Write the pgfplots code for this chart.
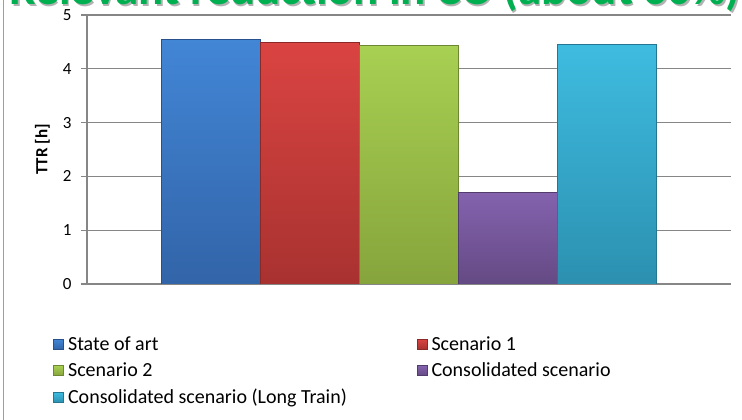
\documentclass[border=0pt]{standalone}
\usepackage{pgfplots}
\pgfplotsset{compat=1.18}
\usepackage{fontspec}
\setmainfont{Carlito}
\definecolor{gridgray}{RGB}{134,134,134}
\definecolor{titlegreen}{RGB}{0,176,80}
\definecolor{bTop}{RGB}{66,134,214}\definecolor{bBot}{RGB}{50,100,168}\definecolor{bEdge}{RGB}{40,80,140}
\definecolor{rTop}{RGB}{218,68,66}\definecolor{rBot}{RGB}{168,50,48}\definecolor{rEdge}{RGB}{140,40,38}
\definecolor{gTop}{RGB}{168,208,82}\definecolor{gBot}{RGB}{134,164,60}\definecolor{gEdge}{RGB}{110,135,50}
\definecolor{pTop}{RGB}{132,98,174}\definecolor{pBot}{RGB}{100,74,132}\definecolor{pEdge}{RGB}{82,60,110}
\definecolor{cTop}{RGB}{62,188,224}\definecolor{cBot}{RGB}{44,144,176}\definecolor{cEdge}{RGB}{36,118,145}
\begin{document}
\begin{tikzpicture}[x=1pt,y=1pt]
\clip (0,0) rectangle (742,420);
\path[use as bounding box] (0,0) rectangle (742,420);
% left frame line
\draw[gray!75, line width=1.5pt] (3.5,0) -- (3.5,420);
% title (cut off at the top)
\node[anchor=base, text=black!30, font=\fontsize{47}{55}\selectfont\bfseries, inner sep=0pt] at (376.5,413.5) {Relevant reduction in CO (about 60\%)};
\node[anchor=base, text=titlegreen, font=\fontsize{47}{55}\selectfont\bfseries, inner sep=0pt] at (375,415) {Relevant reduction in CO (about 60\%)};
\begin{axis}[
  at={(87pt,136pt)}, anchor=south west,
  scale only axis, width=644pt, height=269pt,
  font=\fontsize{17}{20}\selectfont,
  /pgf/number format/assume math mode=true,
  xmin=-1.25, xmax=5.25, ymin=0, ymax=5,
  ytick={0,1,2,3,4,5}, xtick=\empty,
  axis x line*=bottom, axis y line*=left,
  axis line style={draw=gridgray, line width=1.2pt, -},
  ymajorgrids, grid style={draw=gridgray, line width=1.2pt},
  tick style={draw=gridgray, line width=1.2pt},
  tick align=outside, major tick length=6pt,
  yticklabel style={xshift=-6pt},
  ylabel={\bfseries TTR [h]},
  ylabel style={at={(axis description cs:-0.052,0.5)}, anchor=south},
  legend columns=2,
  legend cell align=left,
  legend style={at={(axis description cs:-0.057,-0.18)}, anchor=north west, draw=none, fill=none,
    font=\fontsize{20}{23}\selectfont, row sep=7pt,
    /tikz/every odd column/.append style={column sep=2pt},
    /tikz/every even column/.append style={column sep=68pt}},
  legend image code/.code={\draw[#1, line width=0.6pt] (0pt,-5pt) rectangle (10pt,5pt);},
]
\addplot[ybar, bar shift=0pt, bar width=1, draw=bEdge, line width=0.6pt, top color=bTop, bottom color=bBot] coordinates {(0,4.55)};
\addlegendentry{State of art}
\addplot[ybar, bar shift=0pt, bar width=1, draw=rEdge, line width=0.6pt, top color=rTop, bottom color=rBot] coordinates {(1,4.49)};
\addlegendentry{Scenario 1}
\addplot[ybar, bar shift=0pt, bar width=1, draw=gEdge, line width=0.6pt, top color=gTop, bottom color=gBot] coordinates {(2,4.44)};
\addlegendentry{Scenario 2}
\addplot[ybar, bar shift=0pt, bar width=1, draw=pEdge, line width=0.6pt, top color=pTop, bottom color=pBot] coordinates {(3,1.71)};
\addlegendentry{Consolidated scenario}
\addplot[ybar, bar shift=0pt, bar width=1, draw=cEdge, line width=0.6pt, top color=cTop, bottom color=cBot] coordinates {(4,4.45)};
\addlegendentry{Consolidated scenario (Long Train)}
\end{axis}
\end{tikzpicture}
\end{document}
